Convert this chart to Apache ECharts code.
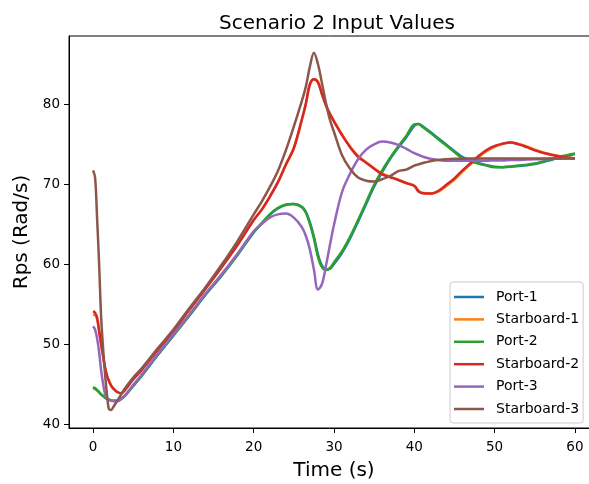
<!DOCTYPE html>
<html>
<head>
<meta charset="utf-8">
<title>Scenario 2 Input Values</title>
<script src="https://cdn.jsdelivr.net/npm/echarts@6/dist/echarts.min.js"></script>
<style>
  html, body { margin: 0; padding: 0; background: #fff; }
  #chart { width: 589px; height: 484px; }
</style>
</head>
<body>
<div id="chart"></div>
<script>
// Sample times (s) shared by every propeller trace
const time = [0, 0.25, 0.5, 0.75, 1, 1.25, 1.5, 1.75, 2, 2.25, 2.5, 3, 3.5, 4,
  5, 6, 8, 10, 12, 14, 16, 18, 20,
  21, 22, 23, 24, 25, 26,
  26.5, 27, 27.5, 28, 28.5, 29, 29.5, 30,
  31, 32, 33, 34, 35, 36, 37, 38, 39, 40,
  40.5,
  41, 42, 43, 44, 45, 46, 47, 48, 49, 50, 51, 52, 53, 54, 55, 56, 57, 58, 59, 60];

// Shaft speeds (Rad/s)
const port1 = [44.5, 44.4, 44.2, 43.95, 43.7, 43.5, 43.3, 43.15, 43.05, 42.95, 42.9, 42.9, 43.15, 43.55,
  44.75, 45.95, 48.55, 51.05, 53.55, 56.15, 58.55, 61.15, 63.95,
  65.05, 66.15, 66.95, 67.4, 67.5, 67.15,
  66.5, 65.2, 63.4, 61.2, 59.8, 59.3, 59.4, 60.0,
  61.4, 63.2, 65.3, 67.5, 69.7, 71.5, 73.15, 74.55, 75.85, 77.3,
  77.5,
  77.25, 76.5, 75.7, 74.9, 74.1, 73.35, 72.95, 72.6, 72.35, 72.15, 72.1, 72.15, 72.25, 72.35, 72.5, 72.75, 73.0, 73.3, 73.55, 73.75];

const starboard1 = [53.7, 53.6, 53.1, 51.7, 50.0, 48.45, 47.0, 46.0, 45.3, 44.8, 44.45, 44.0, 43.85, 44.3,
  45.6, 46.7, 49.2, 51.6, 54.3, 56.9, 59.6, 62.4, 65.5,
  66.8, 68.4, 70.2, 72.4, 74.5, 78.0,
  80.0, 82.4, 83.1, 82.8, 81.3, 79.9, 78.8, 77.9,
  76.2, 74.7, 73.5, 72.7, 71.95, 71.3, 70.9, 70.55, 70.15, 69.8,
  69.2,
  68.9, 68.8, 69.05, 69.75, 70.55, 71.55, 72.45, 73.35, 74.1, 74.65, 75.0, 75.2, 75.0, 74.7, 74.3, 73.95, 73.7, 73.5, 73.3, 73.2];

const port2 = [44.6, 44.45, 44.25, 44.0, 43.7, 43.5, 43.3, 43.15, 43.05, 42.95, 42.9, 42.9, 43.2, 43.6,
  44.8, 46.0, 48.6, 51.1, 53.6, 56.2, 58.6, 61.2, 64.0,
  65.1, 66.2, 67.0, 67.4, 67.5, 67.1,
  66.4, 65.0, 63.2, 60.9, 59.6, 59.25, 59.5, 60.2,
  61.6, 63.4, 65.5, 67.7, 69.9, 71.7, 73.3, 74.7, 76.0, 77.45,
  77.5,
  77.15, 76.4, 75.6, 74.8, 74.0, 73.2, 72.85, 72.55, 72.3, 72.1, 72.1, 72.2, 72.3, 72.4, 72.55, 72.8, 73.1, 73.4, 73.6, 73.8];

const starboard2 = [54.1, 53.9, 53.3, 51.6, 50.0, 48.45, 47.0, 46.0, 45.3, 44.8, 44.45, 44.0, 43.85, 44.3,
  45.6, 46.7, 49.2, 51.6, 54.3, 56.9, 59.6, 62.4, 65.5,
  66.8, 68.4, 70.2, 72.4, 74.5, 78.1,
  80.1, 82.5, 83.1, 82.7, 81.2, 79.8, 78.7, 77.8,
  76.1, 74.6, 73.4, 72.65, 71.9, 71.2, 70.85, 70.5, 70.1, 69.75,
  69.1,
  68.85, 68.8, 69.15, 69.9, 70.7, 71.7, 72.6, 73.5, 74.25, 74.75, 75.05, 75.2, 74.95, 74.6, 74.2, 73.9, 73.65, 73.45, 73.3, 73.2];

const port3 = [52.2, 51.8, 50.7, 49.0, 46.7, 45.0, 43.7, 43.2, 43.0, 42.9, 42.85, 42.85, 43.1, 43.6,
  44.9, 46.1, 48.7, 51.2, 53.7, 56.3, 58.7, 61.3, 64.1,
  65.0, 65.8, 66.2, 66.3, 65.8, 64.6,
  63.5, 61.8, 59.3, 56.8, 57.5, 59.8, 62.4, 64.9,
  69.0, 71.3, 73.1, 74.3, 74.95, 75.3, 75.2, 74.9, 74.4, 73.85,
  73.65,
  73.45, 73.15, 73.0, 72.9, 72.9, 72.9, 72.9, 72.9, 72.9, 72.95, 72.95, 73.0, 73.0, 73.05, 73.1, 73.1, 73.15, 73.15, 73.2, 73.2];

const starboard3 = [71.7, 70.8, 65.7, 60.0, 53.4, 49.4, 46.1, 43.5, 41.8, 41.75, 42.1, 42.9, 43.7, 44.5,
  45.8, 46.9, 49.4, 51.8, 54.5, 57.1, 59.9, 62.9, 66.2,
  67.8, 69.6, 71.6, 74.2, 77.2, 80.4,
  82.2, 84.7, 86.4, 85.0, 82.6, 80.1, 78.0, 76.5,
  73.6, 71.9, 70.8, 70.4, 70.3, 70.6, 71.0, 71.6, 71.8, 72.3,
  72.45,
  72.6, 72.85, 73.0, 73.1, 73.15, 73.15, 73.2, 73.2, 73.2, 73.2, 73.2, 73.2, 73.2, 73.2, 73.2, 73.2, 73.2, 73.2, 73.2, 73.2];

const seriesNames = ['Port-1', 'Starboard-1', 'Port-2', 'Starboard-2', 'Port-3', 'Starboard-3'];
const seriesValues = [port1, starboard1, port2, starboard2, port3, starboard3];
const seriesColors = ['#1f77b4', '#ff7f0e', '#2ca02c', '#d62728', '#9467bd', '#8c564b'];

const xTicks = [0, 10, 20, 30, 40, 50, 60];
const yTicks = [40, 50, 60, 70, 80];

const FONT = 'DejaVu Sans';

const chart = echarts.init(document.getElementById('chart'), null, { renderer: 'canvas' });

const series = seriesNames.map((name, k) => ({
  name: name,
  type: 'line',
  data: time.map((t, i) => [t, seriesValues[k][i]]),
  showSymbol: false,
  symbol: 'none',
  smooth: 0.35,
  lineStyle: { width: 2.5, color: seriesColors[k] },
  itemStyle: { color: seriesColors[k] },
  emphasis: { disabled: true },
  z: 2 + k
}));

chart.setOption({
  animation: false,
  backgroundColor: '#ffffff',
  title: {
    text: 'Scenario 2 Input Values',
    left: 214,
    top: 9,
    textStyle: { fontFamily: FONT, fontSize: 20, fontWeight: 'normal', color: '#000' }
  },
  // plot frame runs past the right edge of the canvas
  grid: {
    left: 69, width: 530, top: 36, height: 392,
    outerBoundsMode: 'none',
    containLabel: false,
    show: true, borderColor: '#000', borderWidth: 1, backgroundColor: 'transparent'
  },
  legend: {
    orient: 'vertical',
    left: 450, top: 282,
    icon: 'rect', itemWidth: 30, itemHeight: 2.5, itemGap: 8.4,
    padding: [8, 4, 7, 4],
    backgroundColor: 'rgba(255,255,255,0.8)',
    borderColor: '#cccccc', borderWidth: 1, borderRadius: 3,
    textStyle: { fontFamily: FONT, fontSize: 14, color: '#000', padding: [0, 0, 0, 7] },
    data: seriesNames
  },
  xAxis: {
    type: 'value', min: -3, max: 63,
    name: 'Time (s)', nameLocation: 'middle', nameGap: 33,
    nameTextStyle: { fontFamily: FONT, fontSize: 20, color: '#000' },
    axisLine: { show: true, onZero: false, lineStyle: { color: '#000', width: 1 } },
    axisTick: { show: true, inside: false, length: 5, customValues: xTicks, lineStyle: { color: '#000', width: 1 } },
    axisLabel: { customValues: xTicks, color: '#000', fontFamily: FONT, fontSize: 13.5, margin: 12 },
    splitLine: { show: false }
  },
  yAxis: {
    type: 'value', min: 39.5, max: 88.5,
    name: 'Rps (Rad/s)', nameLocation: 'middle', nameGap: 29, nameRotate: 90,
    nameTextStyle: { fontFamily: FONT, fontSize: 20, color: '#000' },
    axisLine: { show: true, onZero: false, lineStyle: { color: '#000', width: 1 } },
    axisTick: { show: true, inside: false, length: 5, customValues: yTicks, lineStyle: { color: '#000', width: 1 } },
    axisLabel: { customValues: yTicks, color: '#000', fontFamily: FONT, fontSize: 13.5, margin: 9 },
    splitLine: { show: false }
  },
  series: series
});
</script>
</body>
</html>
